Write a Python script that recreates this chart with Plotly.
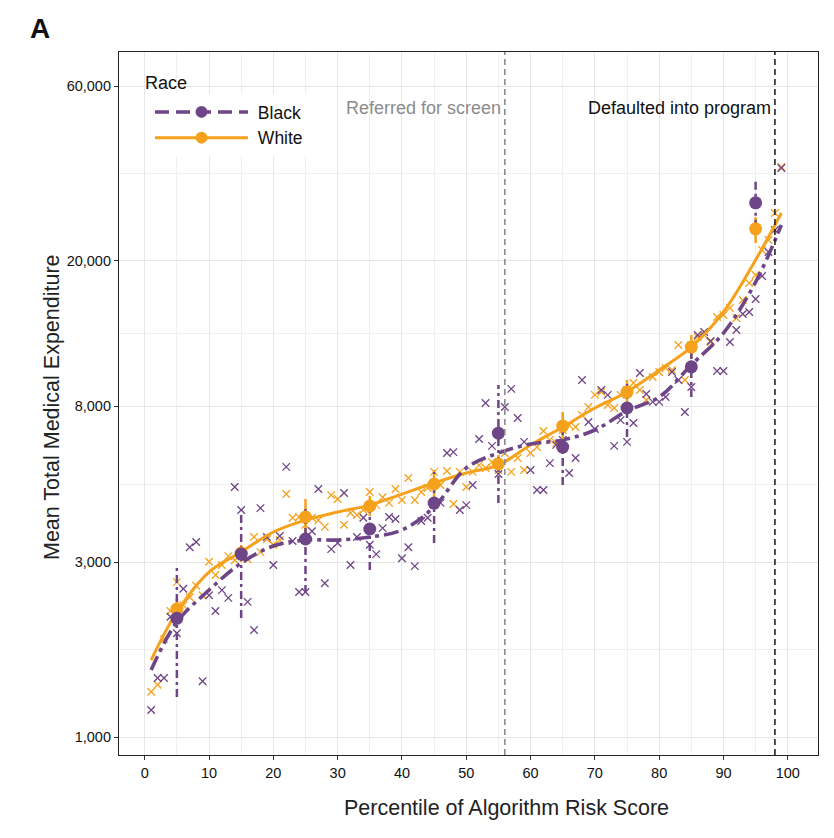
import plotly.graph_objects as go

# ---------------- data ----------------
pct = list(range(1, 100))

black_pts = [1185, 1450, 1450, 2130, 1920, 2540, 3300, 3410, 1420, 2440,
             2210, 2520, 2400, 4820, 4170, 2340, 1960, 4220, 3520, 2950,
             3540, 5470, 3430, 2490, 2490, 3650, 4760, 2630, 3260, 3390,
             4640, 2950, 3520, 3970, 3350, 3160, 3720, 3990, 3940, 3080,
             3300, 2930, 3890, 3970, 4300, 4360, 5970, 6000, 4170, 4300,
             4880, 6520, 8170, 6240, 5230, 7970, 8930, 7440, 6400, 5360,
             4730, 4730, 5600, 6280, 6480, 5260, 5780, 9440, 7250, 6940,
             8870, 8600, 6240, 7340, 6400, 7210, 9870, 8650, 8230, 8230,
             8490, 9930, 9440, 7720, 9040, 12530, 12770, 12070, 9990, 9990,
             11990, 12930, 14300, 14490, 15720, 18160, 21130, 24260, 35830]

white_pts = [1330, 1390, 1850, 2210, 2650, 2290, 2410, 2590, 2440, 3010,
             2770, 2950, 3120, 3040, 3200, 3060, 3520, 3200, 3470, 3350,
             3450, 4610, 3970, 3990, 3800, 3970, 3910, 3750, 4580, 4470,
             3800, 4090, 4040, 4170, 4670, 4300, 4520, 4360, 4760, 4440,
             5100, 4440, 4670, 4790, 5300, 4880, 5330, 4330, 5300, 4820,
             5300, 5530, 5430, 5640, 5360, 5970, 5300, 5780, 5360, 5970,
             6200, 6850, 6480, 6360, 6900, 7110, 7030, 7580, 7970, 8600,
             8760, 8070, 7920, 8600, 8870, 9270, 8870, 8330, 9620, 9930,
             10180, 10060, 11770, 9440, 11770, 12380, 12530, 11990, 14040, 14210,
             14850, 13950, 15620, 17390, 18280, 21390, 22780, 27000, 36060]

bins = [5, 15, 25, 35, 45, 55, 65, 75, 85, 95]
black_mean = [2110, 3160, 3475, 3700, 4355, 6760, 6195, 7920, 10260, 28770]
black_hi = [2950, 4196, 4300, 4250, 5295, 9151, 7026, 9444, 11300, 33600]
black_lo = [1286, 2114, 2474, 2859, 3388, 4357, 4879, 6598, 8490, 24600]
white_mean = [2237, 3181, 3991, 4276, 4911, 5568, 7067, 8753, 11617, 24440]
white_hi = [2397, 3345, 4468, 4554, 5362, 5893, 7722, 9444, 12530, 26300]
white_lo = [2061, 3006, 3562, 4015, 4497, 5262, 6476, 8120, 10840, 22360]

curve_x = [1, 5, 10, 15, 20, 25, 30, 35, 40, 45, 50, 55, 60, 65, 70, 75, 80, 85, 90, 95, 99]
black_curve = [1524, 2061, 2521, 2987, 3325, 3452, 3452, 3519, 3677, 4250, 5430,
               5967, 6315, 6476, 6896, 7772, 8486, 10380, 12690, 17490, 25030]
white_curve = [1623, 2195, 2823, 3202, 3631, 3914, 4117, 4300, 4610, 4941, 5262,
               5533, 6275, 7026, 7920, 8759, 10060, 11620, 14490, 20090, 27000]

y_ticks = [1000, 3000, 8000, 20000, 60000]
y_tick_text = ["1,000", "3,000", "8,000", "20,000", "60,000"]
y_minor = [1732, 4899, 12649, 34641]
x_ticks = list(range(0, 101, 10))
x_minor = [5, 15, 25, 35, 45, 55, 65, 75, 85, 95]
screen_line = 56
program_line = 98

PURPLE = "#6E4586"
ORANGE = "#F5A11C"
BDASH = "15px,5px,4px,5px"
FONT = "Liberation Sans, Arial, sans-serif"


def seg(xs, lo, hi):
    sx, sy = [], []
    for a, l, h in zip(xs, lo, hi):
        sx += [a, a, None]
        sy += [l, h, None]
    return sx, sy


fig = go.Figure()

# scatter x's
fig.add_trace(go.Scatter(x=pct, y=white_pts, mode="markers", showlegend=False,
                         marker=dict(symbol="x-thin-open", size=7.5, color=ORANGE,
                                     line=dict(color=ORANGE, width=1.3))))
fig.add_trace(go.Scatter(x=pct, y=black_pts, mode="markers", showlegend=False,
                         marker=dict(symbol="x-thin-open", size=7.5, color=PURPLE,
                                     line=dict(color=PURPLE, width=1.3))))

# smooth curves
fig.add_trace(go.Scatter(x=curve_x, y=white_curve, mode="lines", showlegend=False,
                         line=dict(color=ORANGE, width=3, shape="spline", smoothing=1.0)))
fig.add_trace(go.Scatter(x=curve_x, y=black_curve, mode="lines", showlegend=False,
                         line=dict(color=PURPLE, width=3.6, shape="spline", smoothing=1.0,
                                   dash=BDASH)))

# error bars
wx, wy = seg(bins, white_lo, white_hi)
fig.add_trace(go.Scatter(x=wx, y=wy, mode="lines", showlegend=False,
                         line=dict(color=ORANGE, width=2.5)))
bx, by = seg(bins, black_lo, black_hi)
fig.add_trace(go.Scatter(x=bx, y=by, mode="lines", showlegend=False,
                         line=dict(color=PURPLE, width=2.5, dash="8px,4px,3px,4px")))

# mean points
fig.add_trace(go.Scatter(x=bins, y=white_mean, mode="markers", showlegend=False,
                         marker=dict(symbol="circle", size=13, color=ORANGE)))
fig.add_trace(go.Scatter(x=bins, y=black_mean, mode="markers", showlegend=False,
                         marker=dict(symbol="circle", size=13, color=PURPLE)))

# legend entries
fig.add_trace(go.Scatter(x=[None], y=[None], mode="lines+markers", name=" Black",
                         line=dict(color=PURPLE, width=3.5, dash="14px,7px"),
                         marker=dict(symbol="circle", size=12, color=PURPLE)))
fig.add_trace(go.Scatter(x=[None], y=[None], mode="lines+markers", name=" White",
                         line=dict(color=ORANGE, width=3),
                         marker=dict(symbol="circle", size=12, color=ORANGE)))

# vertical threshold lines
fig.add_shape(type="line", xref="x", yref="paper", x0=screen_line, x1=screen_line,
              y0=0, y1=1, line=dict(color="#8C8C8C", width=1.6, dash="6px,4px"))
fig.add_shape(type="line", xref="x", yref="paper", x0=program_line, x1=program_line,
              y0=0, y1=1, line=dict(color="#222222", width=1.6, dash="6px,4px"))

fig.add_annotation(x=screen_line, y=0.920, xref="x", yref="paper", text="Referred for screen",
                   showarrow=False, xanchor="right", yanchor="middle", xshift=-2,
                   font=dict(size=18, color="#8C8C8C", family=FONT))
fig.add_annotation(x=program_line, y=0.920, xref="x", yref="paper", text="Defaulted into program",
                   showarrow=False, xanchor="right", yanchor="middle", xshift=-2,
                   font=dict(size=18, color="#111111", family=FONT))
fig.add_annotation(x=-0.113, y=1.034, xref="paper", yref="paper", text="<b>A</b>",
                   showarrow=False, xanchor="center", yanchor="middle",
                   font=dict(size=28, color="#111111",
                             family="Liberation Sans Narrow, Liberation Sans, Arial"))
# legend title
fig.add_annotation(x=(143 - 119) / 699, y=1 - (83 - 52) / 703, xref="paper", yref="paper",
                   text="Race", showarrow=False, xanchor="left", yanchor="middle",
                   font=dict(size=18, color="#111111", family=FONT))
# axis titles
fig.add_annotation(x=(506 - 119) / 699, y=-(808 - 755) / 703, xref="paper", yref="paper",
                   text="Percentile of Algorithm Risk Score", showarrow=False,
                   xanchor="center", yanchor="middle",
                   font=dict(size=21.5, color="#222222", family=FONT))
fig.add_annotation(x=-(119 - 52) / 699, y=1 - (407 - 52) / 703, xref="paper", yref="paper",
                   text="Mean Total Medical Expenditure", showarrow=False, textangle=-90,
                   xanchor="center", yanchor="middle",
                   font=dict(size=21.5, color="#222222", family=FONT))

fig.update_layout(
    width=826, height=830,
    margin=dict(l=111, r=16, t=44, b=83),
    paper_bgcolor="white", plot_bgcolor="white",
    font=dict(family=FONT, color="#111111"),
    legend=dict(x=(150 - 119) / 699, y=1 - (94 - 52) / 703, xanchor="left", yanchor="top",
                bgcolor="white", borderwidth=0,
                font=dict(size=17.5), itemwidth=93, tracegroupgap=0),
)

fig.update_xaxes(range=[-4, 104.7], tickmode="array", tickvals=x_ticks,
                 ticks="outside", ticklen=4, tickcolor="#333", tickwidth=1,
                 tickfont=dict(size=14.5, color="#111"),
                 showgrid=True, gridcolor="#E6E6E6", gridwidth=1.2,
                 minor=dict(tickvals=x_minor, showgrid=True, gridcolor="#F0F0F0", gridwidth=0.8),
                 showline=True, linecolor="#222", linewidth=1.2, mirror=True,
                 zeroline=False)

fig.update_yaxes(type="log", range=[2.951, 4.871], tickmode="array",
                 tickvals=y_ticks, ticktext=y_tick_text,
                 ticks="outside", ticklen=4, tickcolor="#333", tickwidth=1,
                 tickfont=dict(size=14.5, color="#111"),
                 showgrid=True, gridcolor="#E6E6E6", gridwidth=1.2,
                 minor=dict(tickvals=y_minor, showgrid=True, gridcolor="#F0F0F0", gridwidth=0.8),
                 showline=True, linecolor="#222", linewidth=1.2, mirror=True,
                 zeroline=False)

fig.write_html("out.html")
